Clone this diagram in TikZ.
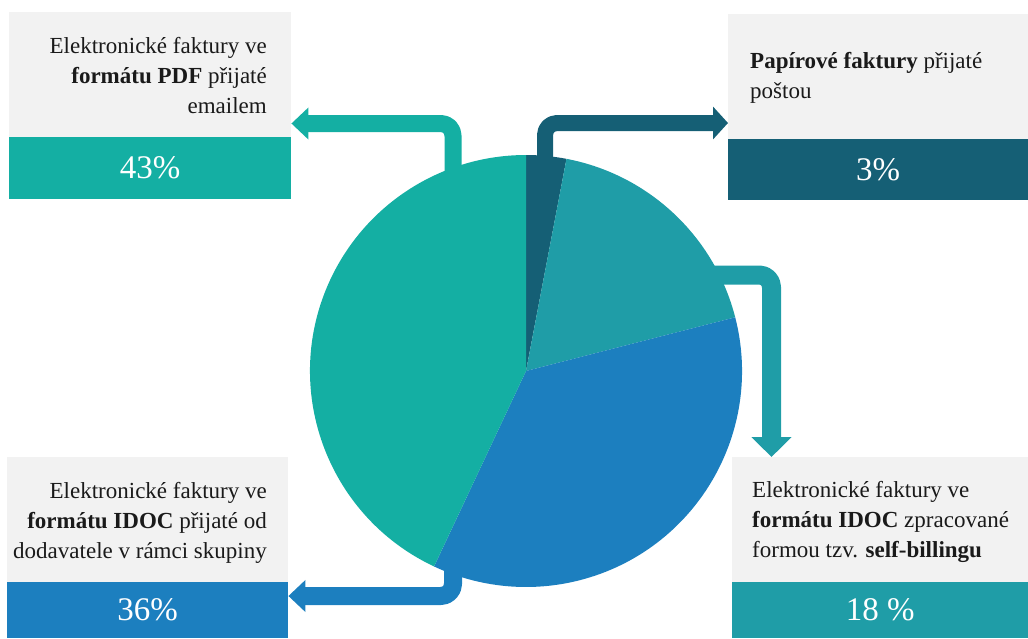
\documentclass[tikz,border=0pt]{standalone}
\usepackage{fontspec}
\setmainfont{Liberation Serif}
\usetikzlibrary{arrows.meta}
\definecolor{boxgrey}{HTML}{F2F2F2}
\definecolor{paperc}{HTML}{155F75}
\definecolor{billc}{HTML}{1F9DA7}
\definecolor{groupc}{HTML}{1C7FBF}
\definecolor{pdfc}{HTML}{14AFA3}
\definecolor{labeltext}{HTML}{1A1A1A}

\begin{document}
\begin{tikzpicture}[x=1pt,y=1pt,
  panel/.style={fill=boxgrey, draw=none, inner sep=0pt, anchor=north west},
  band/.style={draw=none, inner sep=0pt, anchor=north west, text=white,
    font=\fontsize{33pt}{36pt}\selectfont},
  caption/.style={inner sep=0pt, text=labeltext,
    font=\fontsize{23pt}{30pt}\selectfont},
  callout/.style={line cap=butt, line join=round, rounded corners=12pt}
]
\useasboundingbox (0,0) rectangle (1028,-638);

% --- text panels with their percentage bands ---
\node[panel, minimum width=282pt, minimum height=125pt] (pdfbox) at (9,-12) {};
\node[band, fill=pdfc, minimum width=282pt, minimum height=62pt] (pdfband) at (9,-137) {43\%};
\node[caption, anchor=north east, align=right] (pdftext) at (267,-37.5)
  {Elektronické faktury ve\\\textbf{formátu PDF} přijaté\\emailem};

\node[panel, minimum width=300pt, minimum height=125pt] (paperbox) at (728,-14) {};
\node[band, fill=paperc, minimum width=300pt, minimum height=61pt] (paperband) at (728,-139) {3\%};
\node[caption, anchor=north west, align=left] (papertext) at (750,-52.5)
  {\textbf{Papírové faktury} přijaté\\poštou};

\node[panel, minimum width=281pt, minimum height=125pt] (groupbox) at (7,-457) {};
\node[band, fill=groupc, minimum width=281pt, minimum height=56pt] (groupband) at (7,-582) {36\%};
\node[caption, anchor=north east, align=right] (grouptext) at (267,-482)
  {Elektronické faktury ve\\\textbf{formátu IDOC} přijaté od\\dodavatele v rámci skupiny};

\node[panel, minimum width=296pt, minimum height=125pt] (billbox) at (732,-457) {};
\node[band, fill=billc, minimum width=296pt, minimum height=56pt] (billband) at (732,-582) {18 \%};
\node[caption, anchor=north west, align=left] (billtext) at (752,-481)
  {Elektronické faktury ve\\\textbf{formátu IDOC} zpracované\\formou tzv. \textbf{self-billingu}};

% --- pie chart, clockwise from the top ---
\coordinate (pc) at (526,-371);
\fill[paperc] (pc) -- ++(90:216pt) arc[start angle=90, end angle=79.2, radius=216pt] -- cycle;
\fill[billc]  (pc) -- ++(79.2:216pt) arc[start angle=79.2, end angle=14.4, radius=216pt] -- cycle;
\fill[groupc] (pc) -- ++(14.4:216pt) arc[start angle=14.4, end angle=-115.2, radius=216pt] -- cycle;
\fill[pdfc]   (pc) -- ++(-115.2:216pt) arc[start angle=-115.2, end angle=-270, radius=216pt] -- cycle;

% --- callout arrows from the slices to the panels ---
\coordinate (pdfstart) at (453,-178);
\coordinate (pdfbend) at (453,-123.5);
\draw[callout, pdfc, line width=17pt, -{Triangle[width=31pt,length=17pt]}]
  (pdfstart) |- (pdfbend -| pdfbox.east);

\coordinate (paperstart) at (545,-162);
\coordinate (paperbend) at (545,-123);
\draw[callout, paperc, line width=16pt, -{Triangle[width=32pt,length=15pt]}]
  (paperstart) |- (paperbend -| paperbox.west);

\coordinate (billstart) at (705,-275);
\coordinate (billbend) at (771.5,-275);
\draw[callout, billc, line width=19pt, -{Triangle[width=39pt,length=20pt]}]
  (billstart) -| (billbend |- billbox.north);

\coordinate (groupstart) at (453,-566);
\coordinate (groupbend) at (453,-596);
\draw[callout, groupc, line width=18pt, -{Triangle[width=31pt,length=17pt]}]
  (groupstart) |- (groupbend -| groupband.east);
\end{tikzpicture}
\end{document}
